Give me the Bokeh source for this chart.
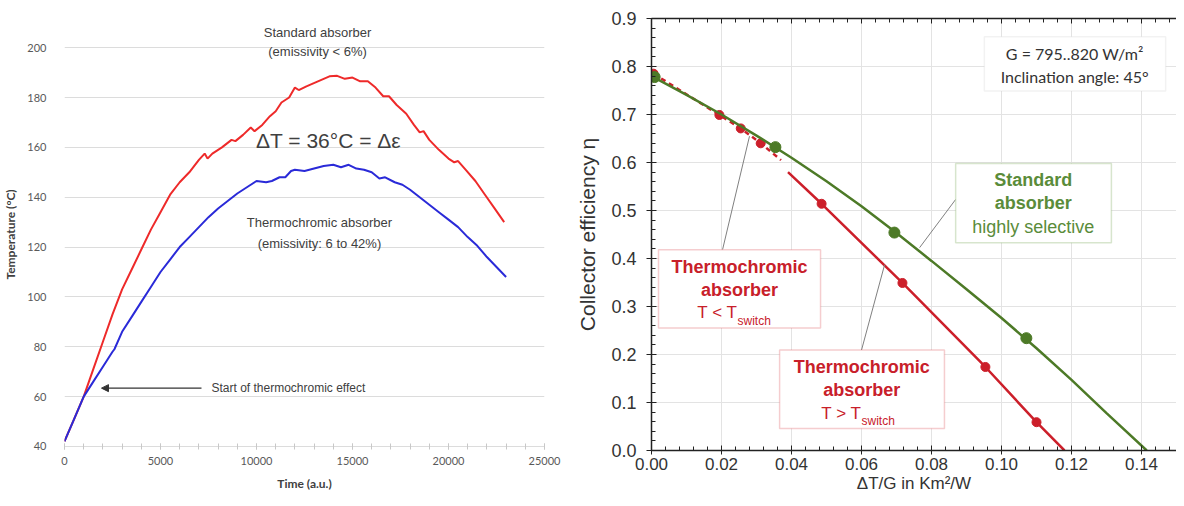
from bokeh.plotting import figure
from bokeh.models import (Range1d, SingleIntervalTicker, FixedTicker, Label, Arrow, NormalHead,
                          BoxAnnotation, PrintfTickFormatter, LinearAxis, CustomJSTickFormatter)
from bokeh.layouts import row
from bokeh.embed import file_html
from bokeh.resources import INLINE

# ---------------- data: left panel (temperature vs time) ----------------
std_time = [0, 500, 1000, 1500, 2000, 2500, 3000, 3500, 4000, 4500, 5000, 5500, 6000, 6500,
            7000, 7300, 7450, 7700, 8200, 8700, 8900, 9300, 9700, 9900, 10300, 10700, 11000,
            11300, 11700, 12000, 12200, 12600, 13200, 13800, 14200, 14600, 15000, 15400, 15800,
            16200, 16600, 16900, 17300, 17800, 18200, 18500, 18700, 19000, 19500, 20000, 20300,
            20500, 20900, 21400, 21900, 22400, 22900]
std_temp = [42, 51, 60, 71, 82, 93, 103, 111, 119, 127, 134, 141, 146, 150,
            155, 157.5, 155.5, 157.5, 160, 163, 162.5, 165, 168, 166.5, 169, 172.5, 174.5,
            178, 180, 184, 183, 184.5, 186.5, 188.5, 188.7, 187.5, 188, 186.5, 186.5,
            184, 180.5, 180.5, 177, 173.5, 169, 166, 166.5, 163, 159, 155.5, 154,
            154.5, 151, 146.5, 141, 135.5, 130]
tc_time = [0, 500, 1000, 1500, 2000, 2500, 2600, 3000, 3500, 4000, 4500, 5000, 5500, 6000,
           6500, 7000, 7500, 8000, 8500, 9000, 9500, 10000, 10500, 10800, 11200, 11500, 11800,
           12000, 12500, 13000, 13500, 14000, 14400, 14800, 15200, 15600, 16000, 16400, 16700,
           17200, 17600, 18000, 18500, 19000, 19500, 20000, 20500, 21000, 21500, 22000, 22500, 23000]
tc_temp = [42, 51, 60, 66, 72, 78, 79, 86, 92, 98, 104, 110, 115, 120,
           124, 128, 132, 135.5, 138.5, 141.5, 144, 146.5, 146, 146.5, 148, 148, 150.5,
           151, 150.5, 151.5, 152.5, 153, 152, 153, 151.5, 151, 150, 147.5, 148,
           146, 145, 143, 140, 137, 134, 131, 128, 124, 120.5, 116, 112, 108]
temp_ticks = [40, 60, 80, 100, 120, 140, 160, 180, 200]

# ---------------- data: right panel (efficiency vs dT/G) ----------------
std_x = [0.0, 0.01, 0.02, 0.03, 0.04, 0.05, 0.06, 0.07, 0.08, 0.09, 0.10, 0.11, 0.12, 0.13, 0.1415]
std_y = [0.78, 0.741, 0.700, 0.656, 0.610, 0.561, 0.509, 0.453, 0.395, 0.336, 0.276, 0.213, 0.147, 0.078, 0.0]
std_pts_x = [0.0009, 0.0354, 0.0694, 0.1071]
std_pts_y = [0.778, 0.632, 0.454, 0.234]

tc_low_x = [0.0006, 0.0194, 0.0255, 0.0312, 0.037]
tc_low_y = [0.785, 0.699, 0.671, 0.640, 0.605]
tc_high_x = [0.039, 0.0486, 0.0717, 0.0954, 0.110, 0.118]
tc_high_y = [0.580, 0.514, 0.349, 0.174, 0.059, 0.0]
tc_pts_x = [0.0006, 0.0194, 0.0255, 0.0312, 0.0486, 0.0717, 0.0954, 0.110]
tc_pts_y = [0.785, 0.699, 0.671, 0.640, 0.514, 0.349, 0.174, 0.059]

H = 498
TOP = 18
BOT = 48

# ---------------- left figure ----------------
p1 = figure(width=562, height=H, x_range=Range1d(0, 25000), y_range=Range1d(38.38, 211.7),
            output_backend="svg", toolbar_location=None,
            min_border_left=55, min_border_right=18, min_border_top=TOP, min_border_bottom=BOT)
p1.outline_line_color = None
p1.xgrid.visible = False
yt1 = FixedTicker(ticks=temp_ticks)
p1.yaxis.ticker = yt1
p1.ygrid.ticker = yt1
p1.ygrid.grid_line_color = "#dcdcdc"
p1.ygrid.grid_line_width = 1
xa1 = p1.below[0]
xa1.ticker = SingleIntervalTicker(interval=5000, num_minor_ticks=5)
xa1.axis_line_color = None
xa1.major_tick_line_color = "#c8c8c8"
xa1.minor_tick_line_color = "#c8c8c8"
xa1.major_tick_in = 7
xa1.major_tick_out = -1
xa1.minor_tick_in = 7
xa1.minor_tick_out = -1
xa1.major_label_standoff = 7
p1.yaxis.axis_line_color = None
p1.yaxis.major_tick_line_color = None
p1.yaxis.minor_tick_line_color = None
p1.yaxis.major_label_standoff = 12
for ax in (p1.xaxis, p1.yaxis):
    ax.major_label_text_font = "Lato"
    ax.major_label_text_font_size = "11px"
    ax.major_label_text_color = "#595959"
    ax.axis_label_text_font = "Lato"
    ax.axis_label_text_font_size = "12px"
    ax.axis_label_text_font_style = "bold"
    ax.axis_label_text_color = "#404040"
p1.xaxis.axis_label = "Time (a.u.)"
p1.xaxis.axis_label_standoff = 8
p1.yaxis.axis_label = "Temperature (°C)"
p1.yaxis.axis_label_standoff = 6

p1.line(std_time, std_temp, line_color="#ee2a2a", line_width=2)
p1.line(tc_time, tc_temp, line_color="#2a2ad8", line_width=2)


def lab(p, x, y, text, size, color, font="Liberation Sans", style="normal", align="center"):
    p.add_layout(Label(x=x, y=y, text=text, text_font=font, text_font_size=size,
                       text_color=color, text_font_style=style, text_align=align,
                       text_baseline="middle"))


lab(p1, 13180, 206.1, "Standard absorber", "13px", "#404040")
lab(p1, 13180, 198.4, "(emissivity < 6%)", "13px", "#404040")
lab(p1, 13750, 162.8, "ΔT = 36°C = Δε", "21px", "#404040")
lab(p1, 13280, 129.7, "Thermochromic absorber", "13px", "#404040")
lab(p1, 13280, 121.6, "(emissivity: 6 to 42%)", "13px", "#404040")
lab(p1, 7656, 63.4, "Start of thermochromic  effect", "12px", "#404040", align="left")
p1.add_layout(Arrow(end=NormalHead(size=7, fill_color="#333333", line_color="#333333"),
                    x_start=7135, y_start=63.4, x_end=1927, y_end=63.4,
                    line_color="#333333", line_width=1.2))

# ---------------- right figure ----------------
p2 = figure(width=614, height=H, x_range=Range1d(0, 0.15), y_range=Range1d(0, 0.9),
            output_backend="svg", toolbar_location=None,
            min_border_left=89, min_border_right=0, min_border_top=TOP, min_border_bottom=BOT)
p2.outline_line_color = None
xt2 = SingleIntervalTicker(interval=0.02, num_minor_ticks=5)
yt2 = SingleIntervalTicker(interval=0.1, num_minor_ticks=5)
bottom = p2.below[0]
left = p2.left[0]
bottom.ticker = xt2
left.ticker = yt2
p2.xgrid.ticker = xt2
p2.ygrid.ticker = yt2
p2.xgrid.grid_line_color = "#e3e3e3"
p2.ygrid.grid_line_color = "#e3e3e3"
bottom.formatter = PrintfTickFormatter(format="%.2f")
left.formatter = PrintfTickFormatter(format="%.1f")
for ax in (bottom, left):
    ax.axis_line_color = "#222222"
    ax.axis_line_width = 1.5
    ax.major_tick_line_color = "#222222"
    ax.minor_tick_line_color = "#222222"
    ax.major_tick_in = 5
    ax.major_tick_out = 5
    ax.minor_tick_in = 4
    ax.minor_tick_out = 0
    ax.major_label_text_font = "Liberation Sans"
    ax.major_label_text_font_size = "18px"
    ax.major_label_text_color = "#333333"
    ax.axis_label_text_font = "Liberation Sans"
    ax.axis_label_text_font_style = "normal"
    ax.axis_label_text_color = "#333333"
bottom.major_tick_out = 4
bottom.major_label_text_font_size = "17px"
bottom.major_label_standoff = 3
bottom.axis_label = "ΔT/G in Km²/W"
bottom.axis_label_text_font_size = "17px"
bottom.axis_label_standoff = 1
left.major_label_standoff = 10
left.axis_label = "Collector efficiency η"
left.axis_label_text_font_size = "21px"
left.axis_label_standoff = 9
top = LinearAxis(ticker=xt2, formatter=CustomJSTickFormatter(code="return ''"),
                 major_tick_in=5, major_tick_out=0,
                 minor_tick_in=4, minor_tick_out=0, axis_line_color="#222222", axis_line_width=1.5,
                 major_tick_line_color="#222222", minor_tick_line_color="#222222",
                 major_label_standoff=0, major_label_text_font_size="4px")
p2.add_layout(top, "above")

RED = "#cc1f2a"
GREEN = "#4d7a27"
p2.line(tc_low_x, tc_low_y, line_color=RED, line_width=2.5, line_dash="5 4")
p2.line(tc_high_x, tc_high_y, line_color=RED, line_width=2.5)
p2.scatter(tc_pts_x, tc_pts_y, size=9, fill_color=RED, line_color=RED)
p2.line(std_x, std_y, line_color=GREEN, line_width=2.5)
p2.scatter(std_pts_x, std_pts_y, size=11, fill_color=GREEN, line_color=GREEN)

# info box
p2.add_layout(BoxAnnotation(left=0.0951, right=0.1469, top=0.862, bottom=0.749,
                            fill_color="white", fill_alpha=1, line_color="#d4d4d4", line_width=1.5))
lab(p2, 0.1209, 0.8264, "G = 795..820 W/m²", "16px", "#333333", font="Lato")
lab(p2, 0.1209, 0.780, "Inclination angle: 45°", "16px", "#333333", font="Lato")

# leader lines
for (xs, ys, xe, ye) in [(0.0869, 0.523, 0.0766, 0.4226),
                         (0.0203, 0.4184, 0.0280, 0.6548),
                         (0.0600, 0.2092, 0.0666, 0.387)]:
    p2.add_layout(Arrow(end=None, x_start=xs, y_start=ys, x_end=xe, y_end=ye,
                        line_color="#808080", line_width=1))

# standard absorber box
p2.add_layout(BoxAnnotation(left=0.0869, right=0.1314, top=0.598, bottom=0.433,
                            fill_color="white", fill_alpha=1, line_color="#7aaa5a", line_width=1.5))
GTXT = "#5a8c3a"
lab(p2, 0.1091, 0.5628, "Standard", "18px", GTXT, style="bold")
lab(p2, 0.1091, 0.5146, "absorber", "18px", GTXT, style="bold")
lab(p2, 0.1091, 0.4665, "highly selective", "18px", GTXT)

# thermochromic boxes
RTXT = "#c8202a"
p2.add_layout(BoxAnnotation(left=0.0020, right=0.0483, top=0.4184, bottom=0.2552,
                            fill_color="white", fill_alpha=1, line_color="#dd5a60", line_width=1.5))
lab(p2, 0.02514, 0.3828, "Thermochromic", "18px", RTXT, style="bold")
lab(p2, 0.02514, 0.3347, "absorber", "18px", RTXT, style="bold")
lab(p2, 0.02457, 0.2866, "T < T", "17px", RTXT, align="right")
lab(p2, 0.02457, 0.2699, "switch", "12px", RTXT, align="left")

p2.add_layout(BoxAnnotation(left=0.0366, right=0.0837, top=0.2092, bottom=0.046,
                            fill_color="white", fill_alpha=1, line_color="#dd5a60", line_width=1.5))
lab(p2, 0.0601, 0.1736, "Thermochromic", "18px", RTXT, style="bold")
lab(p2, 0.0601, 0.1255, "absorber", "18px", RTXT, style="bold")
lab(p2, 0.0600, 0.0774, "T > T", "17px", RTXT, align="right")
lab(p2, 0.0600, 0.0607, "switch", "12px", RTXT, align="left")

layout = row(p1, p2)
open("out.html", "w").write(file_html(layout, INLINE))
